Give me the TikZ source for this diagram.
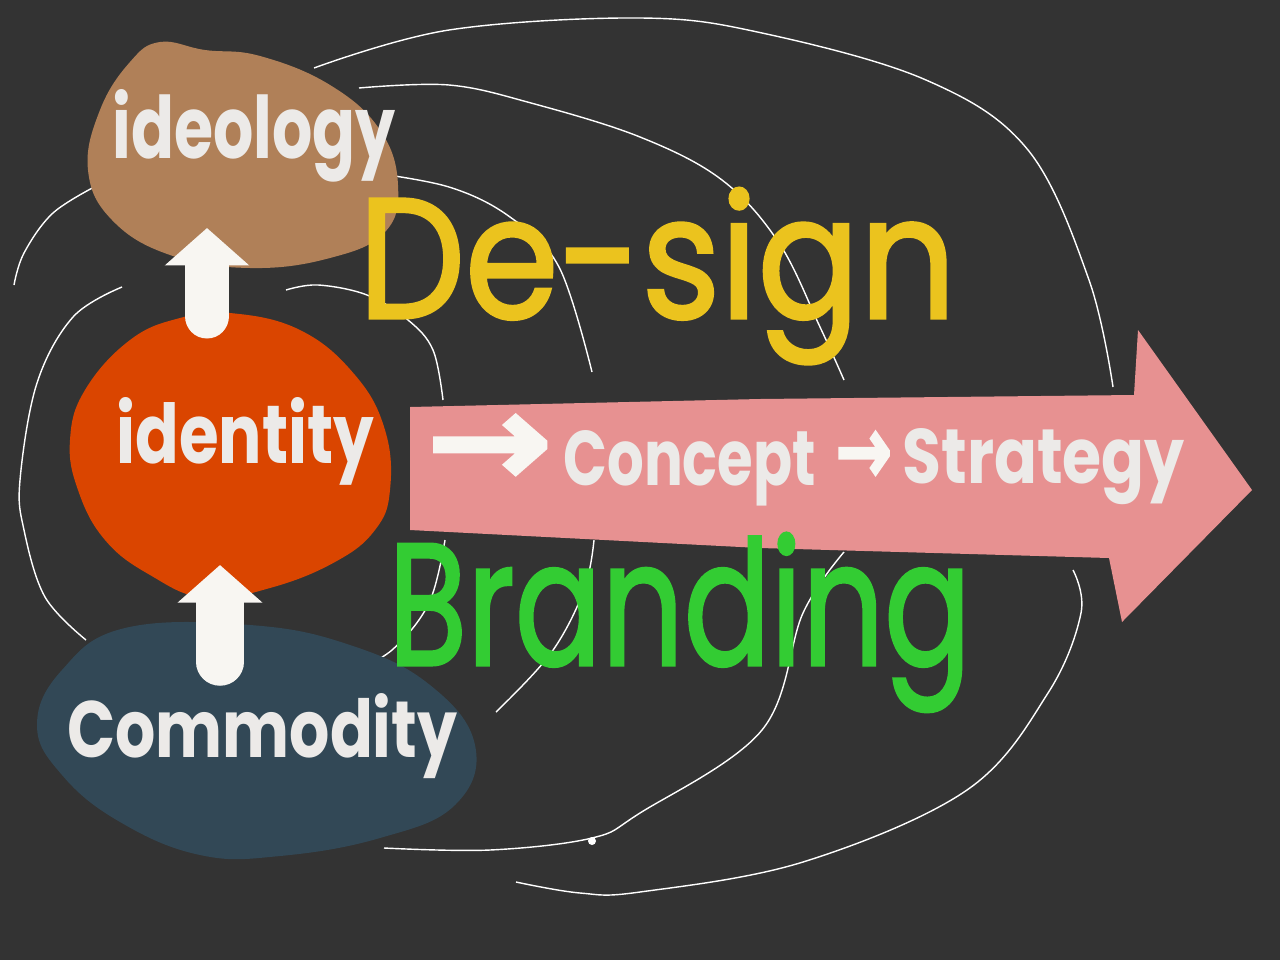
\documentclass[tikz,border=0pt]{standalone}
\usepackage{fontspec}
\usepackage{graphicx}
\usetikzlibrary{arrows.meta}
\newfontfamily\hand{Poppins}
\newfontfamily\handthick[FakeBold=1.8]{Poppins}
\newfontfamily\symfont[FakeBold=5]{DejaVu Sans}
\definecolor{bg}{HTML}{333333}
\definecolor{brownblob}{HTML}{B08058}
\definecolor{redblob}{HTML}{DA4500}
\definecolor{blueblob}{HTML}{324856}
\definecolor{pinkarrow}{HTML}{E79191}
\definecolor{yel}{HTML}{EBC31E}
\definecolor{grn}{HTML}{33CC33}
\definecolor{chalk}{HTML}{ECEAE8}
\definecolor{chalkw}{HTML}{F8F6F2}
\begin{document}
\begin{tikzpicture}[x=0.02cm,y=-0.02cm,
  curve/.style={draw=white, line width=0.8pt},
  fatup/.style={draw=chalkw, line width=#1, -{Triangle[length=0.75cm,width=1.65cm]}},
  lbl/.style={inner sep=0pt, anchor=base west, text=chalk},
  big/.style={inner sep=0pt, anchor=base west}]
\fill[bg] (0,0) rectangle (1280,960);
\useasboundingbox (0,0) rectangle (1280,960);

% thin curves
\draw[curve] plot[smooth, tension=0.6] coordinates {(314,68) (449,30) (640,18) (762,33) (926,80) (1028,150) (1089,280) (1113,387)};
\draw[curve] plot[smooth, tension=0.6] coordinates {(359,88) (449,85) (531,103) (640,137) (722,180) (779,243) (820,327) (844,380)};
\draw[curve] plot[smooth, tension=0.6] coordinates {(367,172) (449,187) (510,217) (559,267) (592,372)};
\draw[curve] plot[smooth, tension=0.6] coordinates {(286,290) (318,285) (367,295) (408,320) (433,350) (443,400)};
\draw[curve] plot[smooth, tension=0.6] coordinates {(98,185) (53,213) (24,253) (14,285)};
\draw[curve] plot[smooth, tension=0.6] coordinates {(122,287) (73,317) (37,383) (20,480) (24,530) (45,597) (86,640)};
\draw[curve] plot[smooth, tension=0.6] coordinates {(351,672) (392,650) (429,603) (445,540)};
\draw[curve] plot[smooth, tension=0.6] coordinates {(496,712) (551,653) (584,590) (594,540)};
\draw[curve] plot[smooth, tension=0.6] coordinates {(384,848) (490,850) (592,838) (640,813) (762,730) (803,613) (844,552)};
\draw[curve] plot[smooth, tension=0.6] coordinates {(516,882) (580,893) (640,892) (803,862) (967,790) (1048,693) (1081,613) (1073,570)};
\fill[white] (592,841) circle (4);

% blobs
\fill[brownblob] plot[smooth cycle, tension=0.7] coordinates {(160,42) (205,50) (260,56) (330,85) (380,130) (398,185) (385,232) (330,258) (250,268) (170,255) (112,220) (88,170) (100,110) (130,62)};
\fill[redblob] plot[smooth cycle, tension=0.7] coordinates {(230,313) (300,330) (355,375) (385,430) (390,490) (375,530) (335,562) (270,588) (205,598) (150,575) (105,540) (78,490) (70,440) (85,390) (130,340) (180,318)};
\fill[blueblob] plot[smooth cycle, tension=0.7] coordinates {(125,628) (250,625) (350,645) (430,685) (475,745) (455,805) (380,838) (280,856) (200,855) (120,822) (62,775) (37,725) (62,670)};

% pink arrow
\fill[pinkarrow] (410,407) -- (760,399) -- (1134,395) -- (1138,330) -- (1252,490) -- (1122,622) -- (1109,558) -- (760,548) -- (410,530) -- cycle;

% up arrows
\coordinate (a1base) at (207,316);
\coordinate (a1tip) at (207,228);
\coordinate (a2base) at (220,662);
\coordinate (a2tip) at (220,565);
\draw[fatup=0.9cm, line cap=round] (a1base) -- (a1tip);
\draw[fatup=0.95cm, line cap=round] (a2base) -- (a2tip);

% labels
\node[lbl] (ideo) at (112,158) {\resizebox{5.66cm}{1.38cm}{\hand\bfseries ideology}};
\node[lbl] (iden) at (116,463) {\resizebox{5.15cm}{1.32cm}{\hand\bfseries identity}};
\node[lbl] (comm) at (67,757) {\resizebox{7.8cm}{1.28cm}{\hand\bfseries Commodity}};

\node[big, text=chalkw] (arr1) at (428,485) {\resizebox{2.45cm}{1.35cm}{\symfont →}};
\node[lbl] (concept) at (563,485) {\resizebox{5.05cm}{1.1cm}{\hand\bfseries Concept}};
\node[big, text=chalkw] (arr2) at (836,483) {\resizebox{1.1cm}{1.0cm}{\symfont →}};
\node[lbl] (strategy) at (902,483) {\resizebox{5.65cm}{1.1cm}{\hand\bfseries Strategy}};

\node[big, text=yel] (design) at (358,318) {\resizebox{11.95cm}{2.6cm}{\handthick De-sign}};
\node[big, text=grn] (branding) at (388,665) {\resizebox{11.65cm}{2.64cm}{\handthick Branding}};
\end{tikzpicture}
\end{document}
